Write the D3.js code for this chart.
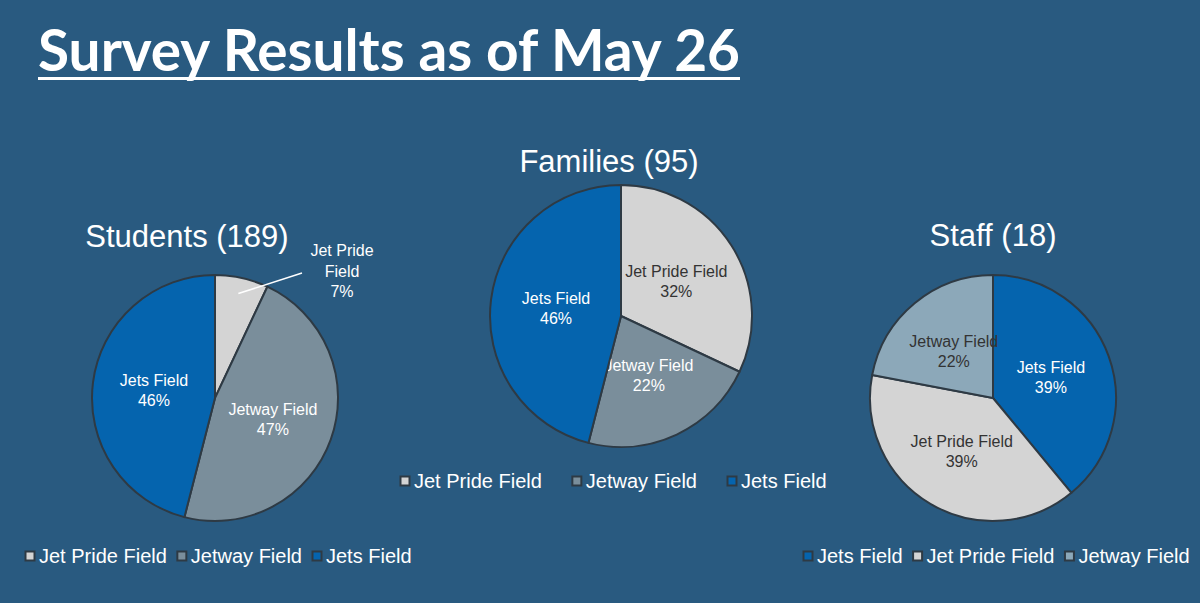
<!DOCTYPE html>
<html>
<head>
<meta charset="utf-8">
<script src="https://cdn.jsdelivr.net/npm/d3@7"></script>
<style>
  html, body { margin: 0; padding: 0; background: #295a80; }
  svg { display: block; font-family: "Liberation Sans", Arial, sans-serif; }
</style>
</head>
<body>
<svg></svg>
<script>
// data
const title = "Survey Results as of May 26";

const studentsTitle = "Students (189)";
const studentsCats = ["Jet Pride Field", "Jetway Field", "Jets Field"];
const studentsValues = [7, 47, 46];

const familiesTitle = "Families (95)";
const familiesCats = ["Jet Pride Field", "Jetway Field", "Jets Field"];
const familiesValues = [32, 22, 46];

const staffTitle = "Staff (18)";
const staffCats = ["Jets Field", "Jet Pride Field", "Jetway Field"];
const staffValues = [39, 39, 22];

const svgWidth = 1200;
const svgHeight = 603;

const svg = d3.select("svg")
    .attr("width", svgWidth)
    .attr("height", svgHeight);

svg.append("rect")
    .attr("width", svgWidth)
    .attr("height", svgHeight)
    .attr("fill", "#295a80");

// title with underline
svg.append("text")
    .attr("x", 38)
    .attr("y", 71)
    .attr("fill", "#fff")
    .attr("font-family", "Lato, 'Open Sans', sans-serif")
    .attr("font-weight", "bold")
    .attr("font-size", 57)
    .attr("textLength", 702)
    .attr("lengthAdjust", "spacingAndGlyphs")
    .text(title);

svg.append("rect")
    .attr("x", 38)
    .attr("y", 77)
    .attr("width", 702)
    .attr("height", 3)
    .attr("fill", "#fff");

const color = {
    "Jet Pride Field": "#d4d4d4",
    "Jetway Field": "#7a8e9b",
    "Jets Field": "#0564ae"
};

const charts = [
    {name: studentsTitle, cats: studentsCats, values: studentsValues,
     cx: 215, cy: 398, r: 123, titleX: 187, titleY: 247,
     legendX: 25, legendY: 556, legendGap: 10,
     jetwayColor: "#7a8e9b", darkLabels: [], callout: "Jet Pride Field"},
    {name: familiesTitle, cats: familiesCats, values: familiesValues,
     cx: 621, cy: 316, r: 131, titleX: 609, titleY: 172,
     legendX: 400, legendY: 481, legendGap: 30,
     jetwayColor: "#7a8e9b", darkLabels: ["Jet Pride Field"]},
    {name: staffTitle, cats: staffCats, values: staffValues,
     cx: 993, cy: 398, r: 123, titleX: 993, titleY: 246,
     legendX: 803, legendY: 556, legendGap: 10,
     jetwayColor: "#8ca8b9", darkLabels: ["Jet Pride Field", "Jetway Field"]}
];

const pie = d3.pie()
    .sort(null)
    .value(d => d.value);

charts.forEach(c => {

    const data = c.cats.map((k, i) => ({cat: k, value: c.values[i]}));
    const fill = k => k === "Jetway Field" ? c.jetwayColor : color[k];

    svg.append("text")
        .attr("x", c.titleX)
        .attr("y", c.titleY)
        .attr("text-anchor", "middle")
        .attr("fill", "#fff")
        .attr("font-size", 31)
        .text(c.name);

    const g = svg.append("g")
        .attr("transform", "translate(" + c.cx + "," + c.cy + ")");

    const path = d3.arc()
        .outerRadius(c.r)
        .innerRadius(0);

    const label = d3.arc()
        .outerRadius(c.r * 0.5)
        .innerRadius(c.r * 0.5);

    const arc = g.selectAll(".arc")
        .data(pie(data))
        .enter().append("g")
        .attr("class", "arc");

    arc.append("path")
        .attr("d", path)
        .attr("fill", d => fill(d.data.cat))
        .attr("stroke", "#2e3a44")
        .attr("stroke-width", 2)
        .attr("stroke-linejoin", "round");

    arc.filter(d => d.data.cat !== c.callout)
        .append("text")
        .attr("transform", d => "translate(" + label.centroid(d) + ")")
        .attr("text-anchor", "middle")
        .attr("font-size", 16)
        .attr("fill", d => c.darkLabels.includes(d.data.cat) ? "#333" : "#fff")
        .selectAll("tspan")
        .data(d => [d.data.cat, d.data.value + "%"])
        .enter().append("tspan")
        .attr("x", 0)
        .attr("y", (d, i) => i === 0 ? -4 : 16)
        .text(d => d);

    // small slice labelled outside with a leader line
    if (c.callout) {
        const d = pie(data).find(p => p.data.cat === c.callout);
        const inner = d3.arc().outerRadius(c.r * 0.87).innerRadius(c.r * 0.87).centroid(d);
        const end = [87, -125];
        g.append("line")
            .attr("x1", inner[0]).attr("y1", inner[1])
            .attr("x2", end[0]).attr("y2", end[1])
            .attr("stroke", "#fff")
            .attr("stroke-width", 1.5);
        g.append("text")
            .attr("text-anchor", "middle")
            .attr("font-size", 16)
            .attr("fill", "#fff")
            .selectAll("tspan")
            .data(["Jet Pride", "Field", d.data.value + "%"])
            .enter().append("tspan")
            .attr("x", end[0] + 40)
            .attr("y", (s, i) => -142 + i * 20.5)
            .text(s => s);
    }

    // legend
    const leg = svg.append("g")
        .attr("transform", "translate(" + c.legendX + "," + c.legendY + ")");
    let x = 0;
    c.cats.forEach(k => {
        leg.append("rect")
            .attr("x", x + 0.5)
            .attr("y", -4.5)
            .attr("width", 9)
            .attr("height", 9)
            .attr("fill", fill(k))
            .attr("stroke", "#2e3a44")
            .attr("stroke-width", 2);
        const txt = leg.append("text")
            .attr("x", x + 14)
            .attr("y", 7)
            .attr("fill", "#fff")
            .attr("font-size", 20)
            .text(k);
        x += 14 + txt.node().getComputedTextLength() + c.legendGap;
    });
});
</script>
</body>
</html>
